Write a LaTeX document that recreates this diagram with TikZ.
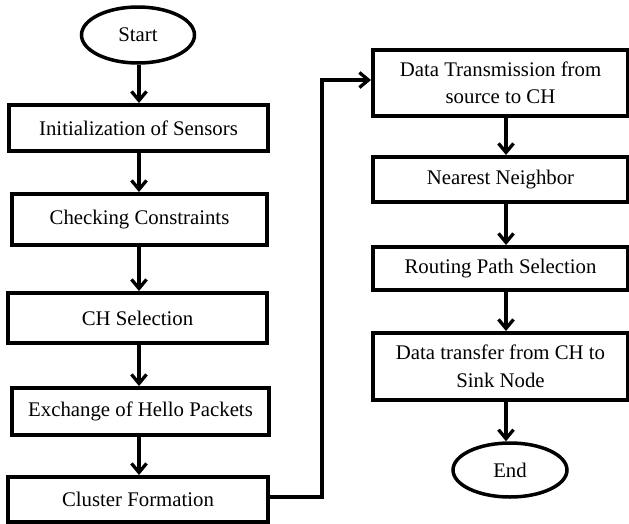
\documentclass[tikz,border=0pt]{standalone}
\usepackage{fontspec}
\setmainfont{Liberation Serif}
\usetikzlibrary{arrows.meta,shapes.geometric}
\begin{document}
\begin{tikzpicture}[x=1pt,y=-1pt,
  box/.style={draw=black,line width=4pt,rectangle,inner sep=0pt,align=center,
    font=\fontsize{20.8}{27.5}\selectfont},
  term/.style={draw=black,line width=3.5pt,ellipse,inner sep=0pt,
    font=\fontsize{20.8}{27.5}\selectfont},
  arr/.style={line width=3.3pt,-{Straight Barb[length=9pt,width=15pt]}}]
\useasboundingbox (0,0) rectangle (629,523);
\node[term,minimum width=113pt,minimum height=56pt] (start) at (138,35) {Start};
\node[box,minimum width=259pt,minimum height=46pt] (init) at (138.5,128) {Initialization of Sensors};
\node[box,minimum width=255pt,minimum height=51pt] (check) at (139.5,219.5) {Checking Constraints};
\node[box,minimum width=259pt,minimum height=50pt] (ch) at (137.5,318) {CH Selection};
\node[box,minimum width=257pt,minimum height=47pt] (exch) at (140.5,411.5) {Exchange of Hello Packets};
\node[box,minimum width=260pt,minimum height=45pt] (cluster) at (138,499.5) {Cluster Formation};
\node[box,minimum width=255pt,minimum height=66pt] (dt) at (500.5,83) {Data Transmission from\\source to CH};
\node[box,minimum width=255pt,minimum height=45pt] (nn) at (500.5,179.5) {Nearest Neighbor};
\node[box,minimum width=255pt,minimum height=43pt] (rp) at (500.5,268.5) {Routing Path Selection};
\node[box,minimum width=255pt,minimum height=67pt] (dtr) at (500.5,366.5) {Data transfer from CH to\\Sink Node};
\node[term,minimum width=114pt,minimum height=54pt] (end) at (510,470) {End};
\coordinate (lx) at (139,0);
\coordinate (rx) at (506,0);
\draw[arr] (lx |- start.south) -- (lx |- init.north);
\draw[arr] (lx |- init.south) -- (lx |- check.north);
\draw[arr] (lx |- check.south) -- (lx |- ch.north);
\draw[arr] (lx |- ch.south) -- (lx |- exch.north);
\draw[arr] (lx |- exch.south) -- (lx |- cluster.north);
\coordinate (turn) at (322,0);
\draw[arr] (cluster.east |- 0,497) -- (turn |- 0,497) -- (turn |- 0,80) -- (dt.west |- 0,80);
\draw[arr] (rx |- dt.south) -- (rx |- nn.north);
\draw[arr] (rx |- nn.south) -- (rx |- rp.north);
\draw[arr] (rx |- rp.south) -- (rx |- dtr.north);
\draw[arr] (rx |- dtr.south) -- (rx |- end.north);
\end{tikzpicture}
\end{document}
